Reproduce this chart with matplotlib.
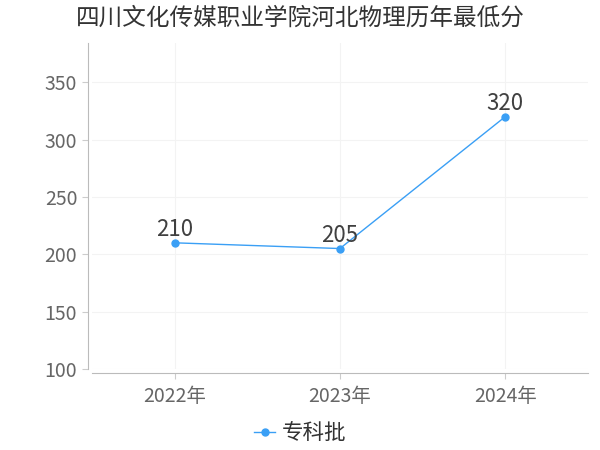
import matplotlib
matplotlib.use("Agg")
import matplotlib.pyplot as plt

plt.rcParams['font.family'] = ['Noto Sans CJK SC', 'DejaVu Sans']

# ── Data ──────────────────────────────────────────────────────────────
years = ["2022年", "2023年", "2024年"]
scores = [210, 205, 320]
series_name = "专科批"
yticks = [100, 150, 200, 250, 300, 350]

LINE_COLOR = "#3a9ff5"
TEXT_COLOR = "#666666"

fig = plt.figure(figsize=(6, 4.5), dpi=100)
ax = fig.add_axes([0.153, 0.18, 0.827, 0.724])

x = list(range(len(years)))
ax.plot(x, scores, color=LINE_COLOR, lw=1, marker="o", ms=5, label=series_name)
for xi, v in zip(x, scores):
    ax.annotate(str(v), (xi, v), xytext=(0, 1), textcoords="offset points",
                ha="center", va="bottom", fontsize=16, color="#404040")

ax.set_xlim(-0.5, len(years) - 0.5)
ax.set_ylim(100, 384)
ax.set_xticks(x)
ax.set_xticklabels(years)
ax.set_yticks(yticks)
ax.tick_params(axis="both", labelsize=14, colors=TEXT_COLOR, length=4, color="#cccccc")
ax.tick_params(axis="x", pad=5)
ax.grid(True, color="#f3f3f3", lw=0.8)
ax.set_axisbelow(True)

for s in ["top", "right"]:
    ax.spines[s].set_visible(False)
ax.spines["left"].set_color("#bbbbbb")
ax.spines["bottom"].set_color("#bbbbbb")
ax.spines["left"].set_position(("outward", 3))
ax.spines["bottom"].set_position(("outward", 3))

fig.suptitle("四川文化传媒职业学院河北物理历年最低分", fontsize=17, color="#333333", y=0.985)
fig.legend(loc="lower center", bbox_to_anchor=(0.5, -0.03), frameon=False,
           fontsize=15.5, handlelength=1.0, handletextpad=0.3,
           labelcolor="#333333")

fig.savefig("out.png", dpi=100)
